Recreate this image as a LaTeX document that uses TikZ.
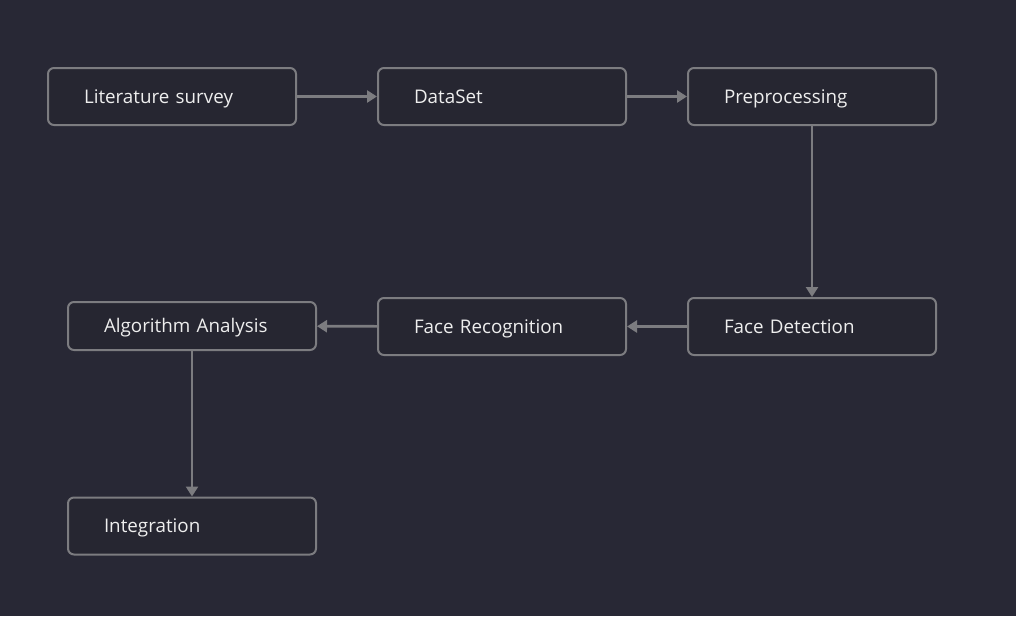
\documentclass[tikz,border=0pt]{standalone}
\usepackage{fontspec}
\setmainfont{Open Sans}
\usetikzlibrary{arrows.meta}
\definecolor{bg}{HTML}{282835}
\definecolor{boxfill}{HTML}{262631}
\definecolor{edge}{HTML}{7C7C80}
\definecolor{txt}{HTML}{EEEEEE}
\tikzset{
  stepbox/.style={draw=edge, line width=2pt, fill=boxfill, rounded corners=6pt,
    text=txt, font=\fontsize{18.8}{22}\selectfont, inner xsep=36pt, inner ysep=0pt,
    text width=176pt, align=left, minimum height=57pt, text height=13.5pt, text depth=0pt},
  flow/.style={draw=edge, line width=2.6pt, -{Triangle[length=10pt,width=12pt]}}
}
\begin{document}
\begin{tikzpicture}[x=1pt,y=-1pt]
\fill[bg] (0,0) rectangle (1016,616);
\useasboundingbox (0,0) rectangle (1016,616);
\node[stepbox] (lit) at (172,96.5) {Literature survey};
\node[stepbox] (ds) at (502,96.5) {DataSet};
\node[stepbox] (pre) at (812,96.5) {Preprocessing};
\node[stepbox] (fd) at (812,326.5) {Face Detection};
\node[stepbox] (fr) at (502,326.5) {Face Recognition};
\node[stepbox, minimum height=48pt] (aa) at (192,326) {Algorithm Analysis};
\node[stepbox] (int) at (192,526) {Integration};
\draw[flow] (lit) -- (ds);
\draw[flow] (ds) -- (pre);
\draw[flow] (pre) -- (fd);
\draw[flow] (fd) -- (fr);
\draw[flow] (fr) -- (aa);
\draw[flow] (aa) -- (int);
\end{tikzpicture}
\end{document}
